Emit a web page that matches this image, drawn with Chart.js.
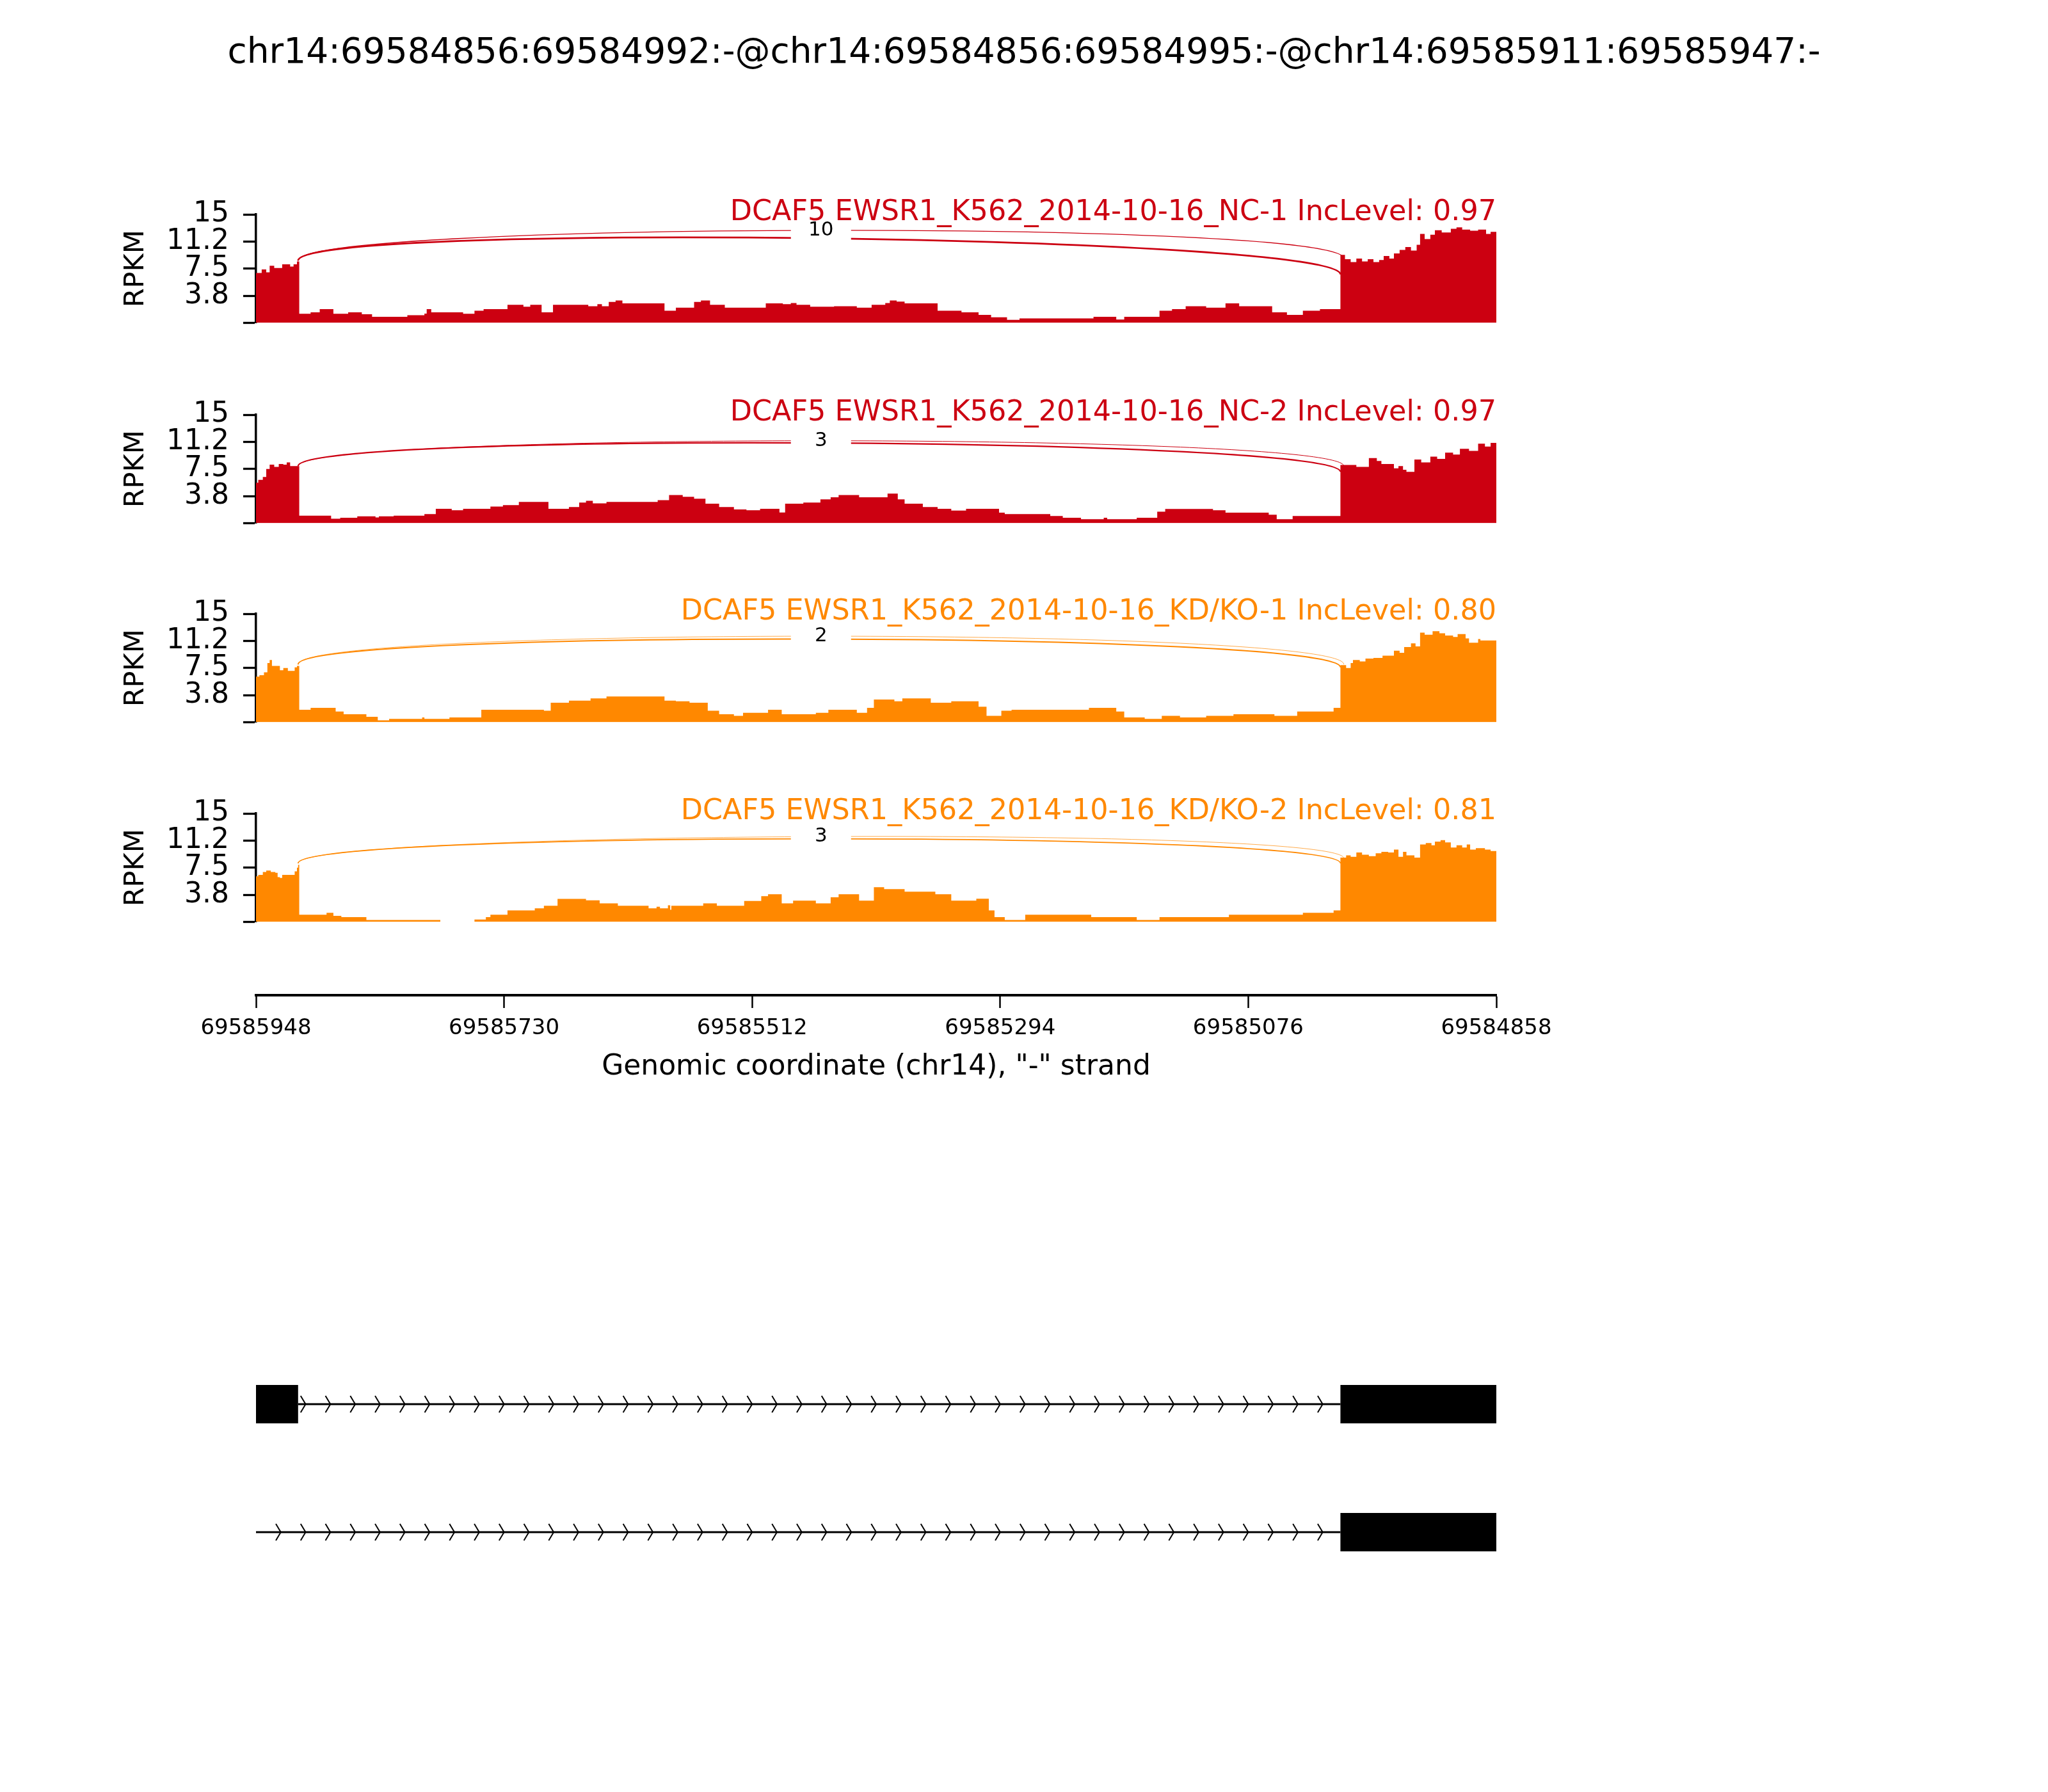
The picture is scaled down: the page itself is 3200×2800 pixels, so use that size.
<!DOCTYPE html>
<html>
<head>
<meta charset="utf-8">
<script src="https://cdn.jsdelivr.net/npm/chart.js@4.4.1/dist/chart.umd.min.js"></script>
<style>
  html, body { margin: 0; padding: 0; background: #ffffff; }
  #page { position: relative; width: 3200px; height: 2800px; background: #ffffff; overflow: hidden; }
  #page canvas { position: absolute; left: 0; }
  #title { position: absolute; left: 0; top: 52px; width: 3200px; text-align: center;
           font-family: 'DejaVu Sans', sans-serif; font-size: 55px; line-height: 55px; color: #000; white-space: nowrap; }
</style>
</head>
<body>
<div id="page">
  <div id="title">chr14:69584856:69584992:-@chr14:69584856:69584995:-@chr14:69585911:69585947:-</div>
  <canvas id="p0" width="3200" height="278"></canvas>
  <canvas id="p1" width="3200" height="278"></canvas>
  <canvas id="p2" width="3200" height="278"></canvas>
  <canvas id="p3" width="3200" height="278"></canvas>
  <canvas id="xaxis" width="3200" height="300"></canvas>
  <canvas id="genes" width="3200" height="400"></canvas>
</div>
<script>
// ---------------- DATA ----------------
// x positions are bp offsets from 69585948 along the "-" strand (left = 69585948)
const xTickPos = [0, 218, 436, 654, 872, 1090];
const xTickLabels = ['69585948', '69585730', '69585512', '69585294', '69585076', '69584858'];
const yTickValues = [0, 3.75, 7.5, 11.25, 15];
const yTickLabels = ['', '3.8', '7.5', '11.2', '15'];

const sampleLabels = [
  'DCAF5 EWSR1_K562_2014-10-16_NC-1 IncLevel: 0.97',
  'DCAF5 EWSR1_K562_2014-10-16_NC-2 IncLevel: 0.97',
  'DCAF5 EWSR1_K562_2014-10-16_KD/KO-1 IncLevel: 0.80',
  'DCAF5 EWSR1_K562_2014-10-16_KD/KO-2 IncLevel: 0.81'
];

const nc1Pos = [0,5,9,12,16,20,23,27,30,33,36, 38,48,56,68,81,93,102,133,148,150,154,182,192,200,221,235,241,251,261,292,300,304,310,316,322,359,369,385,391,399,412,448,463,470,475,487,508,528,541,553,557,563,570,599,620,635,646,660,671,736,756,763,794,805,817,835,852,864,893,906,920,935, 953,957,962,967,972,977,982,987,991,996,1000,1005,1010,1015,1020,1023,1027,1032,1036,1042,1050,1055,1060,1067,1074,1081,1085,1090];
const nc1Val = [6.9,7.4,7.0,7.9,7.6,7.6,8.1,8.1,7.8,8.1,8.5, 1.26,1.46,1.9,1.26,1.46,1.2,0.84,1.07,1.3,1.9,1.46,1.26,1.68,1.9,2.5,2.25,2.5,1.46,2.5,2.3,2.6,2.3,2.9,3.1,2.7,1.68,2.1,2.9,3.1,2.5,2.1,2.7,2.6,2.75,2.5,2.25,2.3,2.1,2.5,2.75,3.1,2.95,2.7,1.68,1.46,1.12,0.78,0.42,0.62,0.84,0.48,0.84,1.68,1.9,2.3,2.1,2.7,2.3,1.46,1.12,1.68,1.9, 9.4,8.8,8.4,8.9,8.5,8.8,8.4,8.7,9.25,8.9,9.6,10.1,10.5,10.0,10.8,12.3,11.6,12.2,12.8,12.5,13.0,13.2,12.9,12.75,12.9,12.3,12.6,12.7];

const nc2Pos = [0,2,6,9,12,16,20,24,27,30, 38,66,74,89,105,108,121,148,158,172,182,206,217,231,257,275,284,290,296,308,353,363,375,385,395,407,420,431,443,460,465,481,496,505,512,530,555,564,570,586,599,611,624,653,658,698,709,725,745,748,774,792,799,841,852,890,897,911, 953,967,978,985,989,1000,1004,1008,1011,1018,1024,1032,1038,1045,1052,1058,1066,1074,1080,1085,1090];
const nc2Val = [5.6,6.0,6.4,7.5,8.1,7.8,8.2,8.1,8.4,7.9, 1.04,0.62,0.76,0.96,0.8,0.96,1.04,1.26,2.0,1.8,2.0,2.3,2.5,2.95,2.0,2.25,2.86,3.1,2.75,2.95,3.2,3.9,3.65,3.4,2.7,2.25,1.9,1.8,2.0,1.5,2.7,2.86,3.3,3.6,3.9,3.6,4.1,3.3,2.7,2.25,2.0,1.75,2.0,1.46,1.26,1.0,0.76,0.56,0.75,0.56,0.76,1.6,1.97,1.8,1.46,1.18,0.56,1.0, 8.06,7.8,9.0,8.6,8.2,7.6,7.9,7.4,7.1,8.8,8.4,9.2,8.9,9.75,9.5,10.3,10.0,11.0,10.6,11.1,10.9];

const kd1Pos = [0,3,7,10,12,14,18,21,24,28,34,36, 38,48,70,77,97,107,117,146,148,170,198,253,259,275,294,308,359,369,381,397,407,420,428,450,462,492,503,528,537,543,561,568,593,611,635,642,655,664,732,756,763,781,796,812,835,859,895,915,947, 953,958,962,964,970,975,982,990,1000,1005,1009,1015,1019,1023,1027,1034,1040,1045,1052,1056,1063,1066,1074,1076,1090];
const kd1Val = [6.3,6.5,6.9,8.2,8.6,7.8,7.8,7.2,7.5,7.1,7.6,7.8, 1.74,2.0,1.5,1.12,0.76,0.28,0.48,0.67,0.48,0.67,1.74,1.6,2.7,3.0,3.3,3.57,3.0,2.9,2.7,1.6,1.12,0.9,1.32,1.74,1.12,1.32,1.74,1.32,2.0,3.15,2.9,3.3,2.7,2.9,2.16,0.9,1.6,1.74,2.0,1.5,0.67,0.48,0.9,0.67,0.9,1.12,0.9,1.5,2.0, 7.9,7.5,8.2,8.6,8.4,8.8,8.9,9.2,9.9,9.6,10.4,10.9,10.5,12.4,12.1,12.6,12.3,12.0,11.8,12.2,11.6,11.0,11.5,11.3,11.3];

const kd2Pos = [0,2,6,9,13,17,19,21,23,31,34,36,37, 38,62,68,75,97,162,192,202,206,221,245,253,265,290,302,318,345,352,355,362,364,365,393,405,429,444,450,462,472,492,505,512,530,543,552,570,597,611,633,644,649,658,676,734,774,794,855,920,947, 953,958,962,967,972,978,984,989,995,1000,1004,1008,1011,1018,1023,1028,1033,1036,1041,1045,1050,1055,1060,1064,1067,1072,1080,1085,1090];
const kd2Val = [6.3,6.5,6.9,7.1,6.9,6.8,6.2,6.1,6.5,6.5,7.0,7.5,7.9, 1.0,1.26,0.84,0.67,0.28,0,0.34,0.67,1.0,1.6,1.88,2.24,3.2,3.0,2.58,2.24,1.88,2.1,1.88,2.3,1.7,2.24,2.58,2.24,2.9,3.56,3.84,2.58,2.94,2.58,3.42,3.84,2.94,4.8,4.54,4.18,3.84,2.94,3.22,1.6,0.67,0.28,1.0,0.67,0.28,0.67,1.0,1.26,1.6, 8.9,9.2,9.0,9.6,9.3,9.1,9.5,9.7,9.6,10.0,9.0,9.7,9.2,8.9,10.7,10.9,10.6,11.1,11.3,11.0,10.3,10.6,10.3,10.7,10.0,10.2,10.0,9.8,9.9];

// junctions: 69585911 -> 69584992 and 69585911 -> 69584995
const junctionStarts = [37, 37];
const junctionEnds = [956, 953];
const arcLeftY  = [[8.6, 8.6], [7.9, 7.9], [8.0, 8.0], [8.1, 8.1]];
const arcRightY = [[8.9, 6.7], [7.9, 7.1], [8.0, 7.6], [8.8, 8.1]];
const arcMidY   = [[12.8, 11.7], [11.4, 11.1], [11.9, 11.5], [11.8, 11.5]];
const junctionLabels = [10, 3, 2, 3];

// gene models (bp offsets)
const iso1Exons = [[0, 37], [953, 1092]];
const iso1Intron = [37, 953];
const iso2Exons = [[953, 1092]];
const iso2Intron = [0, 953];

// ---------------- STYLE / LAYOUT ----------------
const FONT = "'DejaVu Sans', sans-serif";
const RED = '#CC0011', ORANGE = '#FF8800';
const panelColors = [RED, RED, ORANGE, ORANGE];
const panelTops = [335, 648, 959, 1271];
const arcWidths = [[1.4, 2.8], [1.0, 2.2], [0.7, 2.0], [0.7, 1.8]];
const X_MAX = 1090;
const LEFT = 400, RIGHT_PAD = 862;

Chart.defaults.font.family = FONT;

const sashimiPlugin = {
  id: 'sashimi',
  afterDatasetsDraw(chart, args, opts) {
    const { ctx, chartArea } = chart;
    const xs = chart.scales.x, ys = chart.scales.y;
    const k = opts.index;
    ctx.save();
    const mids = [];
    for (let j = 0; j < junctionStarts.length; j++) {
      const L = arcLeftY[k][j], R = arcRightY[k][j], M = arcMidY[k][j];
      const h = (M - (L + R) / 2) / 0.75;
      const x1 = xs.getPixelForValue(junctionStarts[j]);
      const x2 = xs.getPixelForValue(junctionEnds[j]);
      ctx.beginPath();
      ctx.moveTo(x1, ys.getPixelForValue(L));
      ctx.bezierCurveTo(x1, ys.getPixelForValue(L + h), x2, ys.getPixelForValue(R + h), x2, ys.getPixelForValue(R));
      ctx.strokeStyle = opts.color;
      ctx.lineWidth = arcWidths[k][j];
      ctx.stroke();
      mids.push({ x: (x1 + x2) / 2, y: ys.getPixelForValue(M) });
    }
    const top = Math.min(...mids.map(m => m.y)) - 17;
    const bot = Math.max(...mids.map(m => m.y)) + 14;
    const cx = mids[0].x;
    ctx.fillStyle = '#ffffff';
    ctx.fillRect(cx - 47, top, 94, bot - top);
    ctx.fillStyle = '#000000';
    ctx.font = '31px ' + FONT;
    ctx.textAlign = 'center';
    ctx.textBaseline = 'middle';
    ctx.fillText(String(junctionLabels[k]), cx, mids[0].y);
    ctx.fillStyle = opts.color;
    ctx.font = '44.5px ' + FONT;
    ctx.textAlign = 'right';
    ctx.textBaseline = 'alphabetic';
    ctx.fillText(sampleLabels[k], chartArea.right, chartArea.top + 9);
    ctx.restore();
  }
};

function makePanel(k, pos, val) {
  const cv = document.getElementById('p' + k);
  cv.style.top = (panelTops[k] - 60) + 'px';
  return new Chart(cv, {
    type: 'line',
    data: {
      datasets: [{
        data: pos.map((p, i) => ({ x: p, y: val[i] })),
        stepped: true,
        fill: 'origin',
        backgroundColor: panelColors[k],
        borderColor: panelColors[k],
        borderWidth: 0,
        pointRadius: 0
      }]
    },
    options: {
      responsive: false, animation: false, devicePixelRatio: 1,
      layout: { padding: { left: LEFT - 218, right: RIGHT_PAD, top: 60, bottom: 40 } },
      plugins: { legend: { display: false }, tooltip: { enabled: false },
                 sashimi: { index: k, color: panelColors[k] } },
      scales: {
        x: { type: 'linear', min: 0, max: X_MAX, display: false },
        y: {
          min: 0, max: 15,
          afterBuildTicks: s => { s.ticks = yTickValues.map(v => ({ value: v })); },
          ticks: { callback: (v, i) => yTickLabels[i], font: { family: FONT, size: 44 }, color: '#000', padding: 22, autoSkip: false },
          grid: { display: true, drawOnChartArea: false, drawTicks: true, tickLength: 20, tickWidth: 3.3, tickColor: '#000' },
          border: { display: true, color: '#000', width: 3.5 },
          title: { display: true, text: 'RPKM', font: { family: FONT, size: 43 }, color: '#000', padding: { top: 5, bottom: 0 } },
          afterFit: s => { s.width = 218; }
        }
      }
    },
    plugins: [sashimiPlugin]
  });
}

makePanel(0, nc1Pos, nc1Val);
makePanel(1, nc2Pos, nc2Val);
makePanel(2, kd1Pos, kd1Val);
makePanel(3, kd2Pos, kd2Val);

// ---------------- X AXIS ----------------
const xcv = document.getElementById('xaxis');
xcv.style.top = '1455px';
new Chart(xcv, {
  type: 'line',
  data: { datasets: [{ data: [] }] },
  options: {
    responsive: false, animation: false, devicePixelRatio: 1,
    layout: { padding: { left: LEFT, right: RIGHT_PAD, top: 0, bottom: 0 } },
    plugins: { legend: { display: false }, tooltip: { enabled: false } },
    scales: {
      x: {
        type: 'linear', position: 'bottom', min: 0, max: X_MAX,
        afterBuildTicks: s => { s.ticks = xTickPos.map(v => ({ value: v })); },
        ticks: { callback: (v, i) => xTickLabels[i], font: { family: FONT, size: 34 }, color: '#000', padding: 12, maxRotation: 0, autoSkip: false },
        grid: { display: true, drawOnChartArea: false, drawTicks: true, tickLength: 20, tickWidth: 2.5, tickColor: '#000' },
        border: { display: true, color: '#000', width: 4 },
        title: { display: true, text: 'Genomic coordinate (chr14), "-" strand', font: { family: FONT, size: 44 }, color: '#000', padding: { top: 0, bottom: 61 } },
        afterFit: s => { s.height = 200; }
      },
      y: { display: false, min: 0, max: 1 }
    }
  }
});

// ---------------- GENE MODELS ----------------
const isoforms = [
  { exons: iso1Exons, intron: iso1Intron, row: 3 },
  { exons: iso2Exons, intron: iso2Intron, row: 1 }
];
const geneModelPlugin = {
  id: 'geneModel',
  afterDatasetsDraw(chart) {
    const { ctx, chartArea } = chart;
    const xs = chart.scales.x, ys = chart.scales.y;
    ctx.save();
    ctx.beginPath();
    ctx.rect(chartArea.left, chartArea.top, chartArea.right - chartArea.left, chartArea.bottom - chartArea.top);
    ctx.clip();
    const nArrows = 50, spread = 0.2 * X_MAX / nArrows;
    isoforms.forEach(iso => {
      const yc = ys.getPixelForValue(iso.row);
      ctx.strokeStyle = '#000';
      ctx.lineWidth = 3;
      ctx.beginPath();
      ctx.moveTo(xs.getPixelForValue(iso.intron[0]), yc);
      ctx.lineTo(xs.getPixelForValue(iso.intron[1]), yc);
      ctx.stroke();
      ctx.lineWidth = 2;
      for (let i = 0; i < nArrows; i++) {
        const loc = i * X_MAX / nArrows;
        if (loc - spread >= iso.intron[0] && loc - spread <= iso.intron[1]) {
          ctx.beginPath();
          ctx.moveTo(xs.getPixelForValue(loc - spread), ys.getPixelForValue(iso.row + 0.13));
          ctx.lineTo(xs.getPixelForValue(loc), yc);
          ctx.lineTo(xs.getPixelForValue(loc - spread), ys.getPixelForValue(iso.row - 0.13));
          ctx.stroke();
        }
      }
      ctx.fillStyle = '#000';
      iso.exons.forEach(([a, b]) => {
        const xa = xs.getPixelForValue(a), xb = xs.getPixelForValue(b);
        const yt = ys.getPixelForValue(iso.row + 0.3), yb = ys.getPixelForValue(iso.row - 0.3);
        ctx.fillRect(xa, yt, xb - xa, yb - yt);
      });
    });
    ctx.restore();
  }
};
const gcv = document.getElementById('genes');
gcv.style.top = '2094px';
new Chart(gcv, {
  type: 'line',
  data: { datasets: [{ data: [] }] },
  options: {
    responsive: false, animation: false, devicePixelRatio: 1,
    layout: { padding: { left: LEFT, right: RIGHT_PAD, top: 0, bottom: 0 } },
    plugins: { legend: { display: false }, tooltip: { enabled: false } },
    scales: {
      x: { type: 'linear', min: 0, max: X_MAX, display: false },
      y: { type: 'linear', min: 0, max: 4, display: false }
    }
  },
  plugins: [geneModelPlugin]
});
</script>
</body>
</html>
